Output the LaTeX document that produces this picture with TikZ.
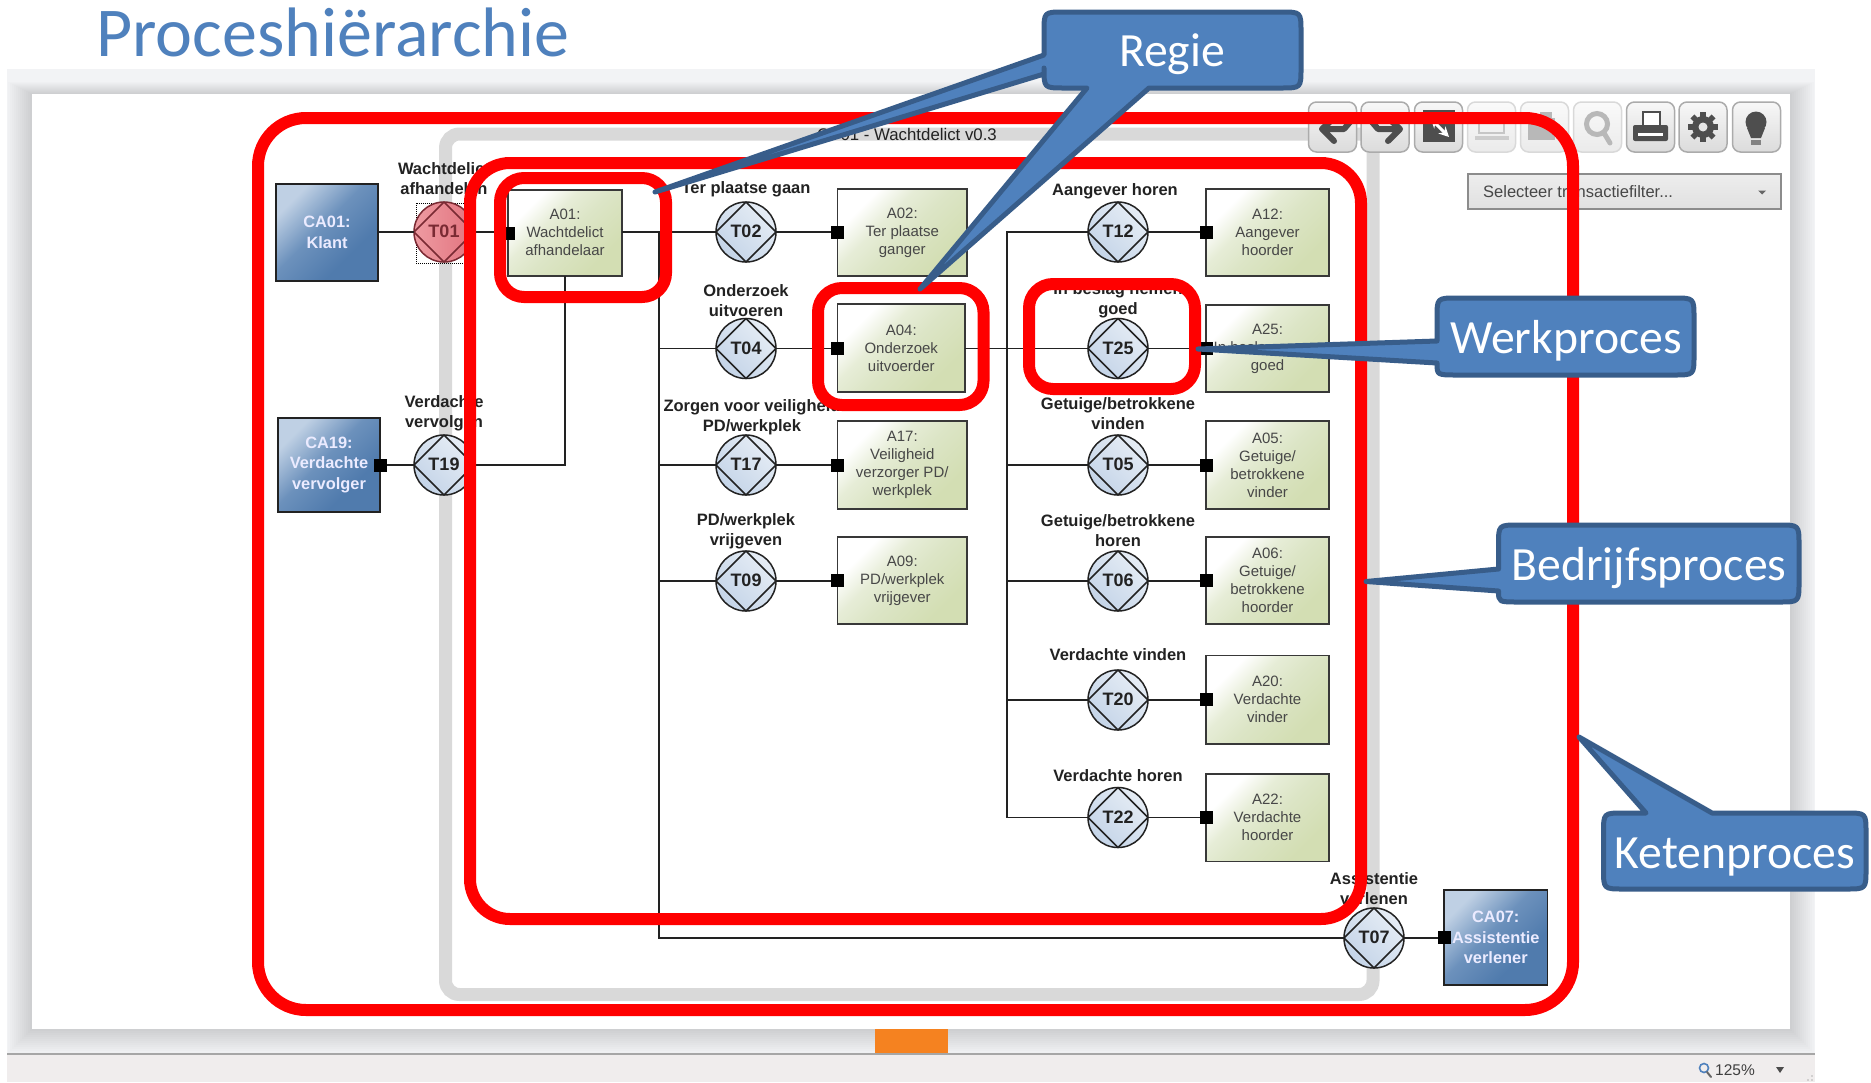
\documentclass[tikz,border=0pt]{standalone}
\usepackage{fontspec}
\setmainfont{Liberation Sans}
\newfontfamily\calfont{Carlito}
\usetikzlibrary{arrows.meta,calc}
\definecolor{calloutfill}{HTML}{4F81BD}
\definecolor{calloutedge}{HTML}{385D8A}
\definecolor{framered}{HTML}{FF0000}
\definecolor{framegrey}{HTML}{D9D9D9}
\definecolor{slidebg}{HTML}{F2F3F5}
\definecolor{barbg}{HTML}{F0EDED}
\definecolor{orangebar}{HTML}{F58220}
\definecolor{inkdark}{HTML}{222222}
\definecolor{inkred}{HTML}{7A2A33}
\definecolor{icondark}{HTML}{4E4E4E}
\definecolor{iconlight}{HTML}{B8B8B8}
\definecolor{actmid}{HTML}{DCE5C6}
\definecolor{actgreen}{HTML}{D3DEB3}
\definecolor{caA}{HTML}{BFD0E4}
\definecolor{caB}{HTML}{6C91BC}
\definecolor{caC}{HTML}{507BAD}
\definecolor{transA}{HTML}{E6EDF5}
\definecolor{transB}{HTML}{C4D4E8}
\definecolor{redA}{HTML}{EE9BA2}
\definecolor{redB}{HTML}{E2737E}
\pgfdeclarehorizontalshading{actshade}{100bp}{color(0bp)=(white); color(28bp)=(white); color(40bp)=(actmid!70!white); color(52bp)=(actmid); color(72bp)=(actgreen); color(100bp)=(actgreen)}
\pgfdeclarehorizontalshading{cashade}{100bp}{color(0bp)=(caA); color(26bp)=(caA); color(46bp)=(caB); color(66bp)=(caC); color(100bp)=(caC)}
\tikzset{
  x=1pt,y=-1pt,
  actbox/.style={draw=inkdark!90,line width=1.8pt,shading=actshade,shading angle=-45,inner sep=0pt,outer sep=0pt},
  cabox/.style={draw=inkdark,line width=1.8pt,shading=cashade,shading angle=-45,inner sep=0pt,outer sep=0pt},
  catext/.style={align=center,inner sep=0pt,text=white!92!blue,font=\bfseries\fontsize{16.4}{20.5}\selectfont},
  acttext/.style={align=center,inner sep=0pt,text=black!72,font=\fontsize{15}{18}\selectfont},
  transnode/.style={circle,draw=inkdark,line width=1.5pt,minimum size=60pt,inner sep=0pt,outer sep=0pt,left color=transA,right color=transB,shading angle=-45},
  transred/.style={transnode,draw=inkred,left color=redA,right color=redB},
  ttext/.style={inner sep=0pt,font=\bfseries\fontsize{18}{20}\selectfont},
  tlabel/.style={align=center,inner sep=0pt,text=inkdark,font=\bfseries\fontsize{16.5}{20}\selectfont},
  conn/.style={draw=inkdark,line width=1.8pt},
  port/.style={fill=black,minimum size=13pt,inner sep=0pt,outer sep=0pt},
  redframe/.style={draw=framered,line width=12pt},
  callout/.style={draw=calloutedge,fill=calloutfill,line width=5pt,line join=round},
  calloutlabel/.style={text=white,inner sep=0pt,font=\calfont\fontsize{47.7}{50}\selectfont},
  toolbtn/.style={draw=black!33,line width=1.5pt,rounded corners=8pt,top color=white!97!black,bottom color=black!14},
  toolbtnoff/.style={draw=black!15,line width=1.5pt,rounded corners=8pt,top color=white!98!black,bottom color=black!8},
}
\newcommand{\ActBox}[6]{%
  \pgfmathsetmacro\cx{(#2+#4)/2}\pgfmathsetmacro\cy{(#3+#5)/2}%
  \pgfmathsetmacro\bw{#4-#2}\pgfmathsetmacro\bh{#5-#3}%
  \node[#6,minimum width=\bw pt,minimum height=\bh pt] (#1) at (\cx,\cy) {};}
\newcommand{\TransN}[5][transnode]{%
  \node[#1] (#2) at (#3,#4) {};
  \draw[draw=#5,line width=1.5pt,line join=round] (#2.north) -- (#2.east) -- (#2.south) -- (#2.west) -- cycle;
  \node[ttext,text=#5] at ($(#2.center)+(0,-0.5)$) {#2};}
\newcommand{\TB}[2]{\node[#1,minimum width=48pt,minimum height=50pt] at (#2,127) {};}
\begin{document}
\begin{tikzpicture}
\useasboundingbox (0,0) rectangle (1871,1082);
\fill[white] (0,0) rectangle (1871,1082);
% slide surroundings
\fill[slidebg] (7,69) rectangle (1815,1054);
\begin{scope}
  \clip (7,69) rectangle (1815,1054);
  \foreach \d in {2,4,...,24}{\fill[black,opacity=.012] ({32-\d},{94-\d*.5}) rectangle ({1790+\d},{1029+\d});}
\end{scope}
\fill[white] (32,94) rectangle (1790,1029);
\fill[orangebar] (875,1029) rectangle (948,1054);
\fill[barbg] (7,1054) rectangle (1815,1082);
\draw[black!35,line width=1.5pt] (7,1054) -- (1815,1054);
% grey process frame
\draw[draw=framegrey,line width=13pt,rounded corners=14pt] (445.5,134) rectangle (1373,994.5);
\node[inner sep=0pt,text=inkdark,font=\fontsize{16.8}{20}\selectfont] (proctitle) at (907,134.5) {CP01 - Wachtdelict v0.3};
% toolbar
\TB{toolbtn}{1332.5}\TB{toolbtn}{1385}\TB{toolbtn}{1438.5}\TB{toolbtnoff}{1491.5}\TB{toolbtnoff}{1544.5}\TB{toolbtnoff}{1597.5}\TB{toolbtn}{1650.5}\TB{toolbtn}{1703}\TB{toolbtn}{1756.5}
\begin{scope}[icondark,line width=6pt,line cap=round,line join=round]
  \draw[icondark] (1322,129) -- (1334,141) (1322,129) -- (1334,118) (1322,129) -- (1344,129) -- (1350,122);
  \draw[icondark] (1400,129) -- (1388,141) (1400,129) -- (1388,118) (1400,129) -- (1378,129) -- (1372,122);
\end{scope}
\fill[icondark] (1423,110) rectangle (1455,142);
\draw[white,line width=3pt,{Stealth[length=9pt,width=9pt]}-{Stealth[length=10pt,width=10pt]}] (1431,119) -- (1449,137);
% disabled icons
\draw[iconlight!80,line width=2.5pt] (1479,113) rectangle (1504,133);
\fill[iconlight!70] (1475,136) rectangle (1509,140);
\fill[iconlight] (1528,118) rectangle (1555,140);
\fill[iconlight] (1540,112) rectangle (1552,120);
\draw[iconlight,line width=5pt] (1597,124) circle (10.5);
\draw[iconlight,line width=5pt,line cap=round] (1604,133) -- (1610,143);
% printer
\draw[icondark,fill=white,line width=2.5pt] (1643,112) rectangle (1660,128);
\fill[icondark,rounded corners=2pt] (1633,125) rectangle (1668,141);
\fill[white] (1638,133) rectangle (1663,136);
% gear
\begin{scope}[shift={(1703,127)}]
  \foreach \a in {0,45,...,315}{\draw[icondark,line width=5.5pt] (0,0) -- (\a:15);}
  \fill[icondark] (0,0) circle (11);
  \fill[white!90!black] (0,0) circle (4.5);
\end{scope}
% bulb
\fill[icondark] (1756,122) circle (10.5);
\fill[icondark] (1747,128) -- (1765,128) -- (1761,138) -- (1751,138) -- cycle;
\fill[icondark!70] (1751,140) rectangle (1761,145);
% dropdown
\node[draw=black!45,line width=1.2pt,top color=black!7,bottom color=black!12,minimum width=313pt,minimum height=35pt,inner sep=0pt,outer sep=0pt] (filter) at (1624.5,191.5) {};
\node[anchor=base west,inner sep=0pt,text=black!72,font=\fontsize{16.5}{20}\selectfont] (filtertext) at (1483,197) {Selecteer transactiefilter...};
\fill[black!60] (1758,190.5) -- (1766,190.5) -- (1762,194.5) -- cycle;

% composite actors
\ActBox{CA01}{276}{184}{378}{281}{cabox}
\ActBox{CA19}{278}{418}{380}{512}{cabox}
\ActBox{CA07}{1444}{890}{1547.5}{985}{cabox}
\node[catext] at (CA01.center) {CA01:\\Klant};
\node[catext] at (CA19.center) {CA19:\\Verdachte\\vervolger};
\node[catext] at (CA07.center) {CA07:\\Assistentie\\verlener};
% actor roles
\ActBox{A01}{508}{190}{622}{276}{actbox}
\ActBox{A02}{837.5}{189}{967}{276}{actbox}
\ActBox{A04}{837.5}{304}{965}{392}{actbox}
\ActBox{A17}{837.5}{421}{967}{509}{actbox}
\ActBox{A09}{837.5}{537}{967}{624}{actbox}
\ActBox{A12}{1206}{189}{1329}{276}{actbox}
\ActBox{A25}{1206}{305}{1329}{392}{actbox}
\ActBox{A05}{1206}{421}{1329}{509}{actbox}
\ActBox{A06}{1206}{537}{1329}{624}{actbox}
\ActBox{A20}{1206}{655.5}{1329}{744}{actbox}
\ActBox{A22}{1206}{774}{1329}{861.5}{actbox}
\node[acttext] at ($(A01.center)+(0,-1)$) {A01:\\Wachtdelict\\afhandelaar};
\node[acttext] at (A02.center) {A02:\\Ter plaatse\\ganger};
\node[acttext] at (A04.center) {A04:\\Onderzoek\\uitvoerder};
\node[acttext] at (A17.center) {A17:\\Veiligheid\\verzorger PD/\\werkplek};
\node[acttext] at (A09.center) {A09:\\PD/werkplek\\vrijgever};
\node[acttext] at (A12.center) {A12:\\Aangever\\hoorder};
\node[acttext] at (A25.center) {A25:\\In beslag nemer\\goed};
\node[acttext] at (A05.center) {A05:\\Getuige/\\betrokkene\\vinder};
\node[acttext] at (A06.center) {A06:\\Getuige/\\betrokkene\\hoorder};
\node[acttext] at (A20.center) {A20:\\Verdachte\\vinder};
\node[acttext] at (A22.center) {A22:\\Verdachte\\hoorder};

% selection box behind T01
\draw[black,line width=1pt,densely dotted] (416,203) rectangle (475,263);
% transactions
\TransN[transred]{T01}{444}{232}{inkred}
\TransN{T19}{444}{465}{inkdark}
\TransN{T02}{746}{232}{inkdark}
\TransN{T04}{746}{348.5}{inkdark}
\TransN{T17}{746}{465}{inkdark}
\TransN{T09}{746}{581}{inkdark}
\TransN{T12}{1118}{232}{inkdark}
\TransN{T25}{1118}{348.5}{inkdark}
\TransN{T05}{1118}{465}{inkdark}
\TransN{T06}{1118}{581}{inkdark}
\TransN{T20}{1118}{700}{inkdark}
\TransN{T22}{1118}{817.5}{inkdark}
\TransN{T07}{1374}{938}{inkdark}
% transaction labels
\node[tlabel] (lT01) at (444,178.5) {Wachtdelict\\afhandelen};
\node[tlabel] (lT19) at (444,413) {Verdachte\\vervolgen};
\node[tlabel] (lT02) at (746,189) {Ter plaatse gaan};
\node[tlabel] (lT04) at (746,301) {Onderzoek\\uitvoeren};
\node[tlabel] (lT17) at (752,417) {Zorgen voor veiligheid\\PD/werkplek};
\node[tlabel] (lT09) at (746,531) {PD/werkplek\\vrijgeven};
\node[tlabel] (lT12) at (1115,191) {Aangever horen};
\node[tlabel] (lT25) at (1118,300) {In beslag nemen\\goed};
\node[tlabel] (lT05) at (1118,413.5) {Getuige/betrokkene\\vinden};
\node[tlabel] (lT06) at (1118,531) {Getuige/betrokkene\\horen};
\node[tlabel] (lT20) at (1118,655) {Verdachte vinden};
\node[tlabel] (lT22) at (1118,776) {Verdachte horen};
\node[tlabel] (lT07) at (1374,889) {Assistentie\\verlenen};

% connectors
\coordinate (busA) at (659,232);
\coordinate (busB) at (1007,232);
\draw[conn] (T01.west) -- (T01.west -| CA01.east);
\draw[conn] (T01.east) -- (T01.east -| A01.west);
\draw[conn] (CA19.east |- T19.west) -- (T19.west);
\draw[conn] (T19.east) -- (A01.south |- T19.east) -- (A01.south);
\draw[conn] (T02.west -| A01.east) -- (T02.west);
\draw[conn] (busA) -- (busA |- T07.west) -- (T07.west);
\draw[conn] (busA |- T04.west) -- (T04.west);
\draw[conn] (busA |- T17.west) -- (T17.west);
\draw[conn] (busA |- T09.west) -- (T09.west);
\draw[conn] (T02.east) -- (T02.east -| A02.west);
\draw[conn] (T04.east) -- (T04.east -| A04.west);
\draw[conn] (T17.east) -- (T17.east -| A17.west);
\draw[conn] (T09.east) -- (T09.east -| A09.west);
\draw[conn] (T12.west) -- (busB) -- (busB |- T22.west) -- (T22.west);
\draw[conn] (T25.west -| A04.east) -- (T25.west);
\draw[conn] (busB |- T05.west) -- (T05.west);
\draw[conn] (busB |- T06.west) -- (T06.west);
\draw[conn] (busB |- T20.west) -- (T20.west);
\draw[conn] (T12.east) -- (T12.east -| A12.west);
\draw[conn] (T25.east) -- (T25.east -| A25.west);
\draw[conn] (T05.east) -- (T05.east -| A05.west);
\draw[conn] (T06.east) -- (T06.east -| A06.west);
\draw[conn] (T20.east) -- (T20.east -| A20.west);
\draw[conn] (T22.east) -- (T22.east -| A22.west);
\draw[conn] (T07.east) -- (T07.east -| CA07.west);
% ports
\foreach \n in {A01,A02,A04,A17,A09,A12,A25,A05,A06,A20,A22,CA07}{\node[port] (p\n) at (\n.west) {};}
\node[port] (pCA19) at (CA19.east) {};

% red frames
\draw[redframe,rounded corners=48pt] (258,118) rectangle (1573,1010);
\draw[redframe,rounded corners=40pt] (470,163) rectangle (1361,919);
\draw[redframe,rounded corners=24pt] (500,178) rectangle (666,297);
\draw[redframe,rounded corners=24pt] (818,288) rectangle (983.5,405);
\draw[redframe,rounded corners=24pt] (1029,284) rectangle (1195,389);

% callouts
\draw[callout] (1064,12) -- (1281,12) .. controls (1301,12) .. (1301,32) -- (1301,68) .. controls (1301,88) .. (1281,88) -- (1149,88) -- (920,289) -- (1087,88) -- (1064,88) .. controls (1044,88) .. (1044,68) -- (1044,74) -- (655,192) -- (1044,55) -- (1044,32) .. controls (1044,12) .. (1064,12) -- cycle;
\node[calloutlabel] (regie) at (1172,54) {Regie};
\draw[callout] (1457,298) -- (1674,298) .. controls (1694,298) .. (1694,318) -- (1694,355) .. controls (1694,375) .. (1674,375) -- (1457,375) .. controls (1437,375) .. (1437,363) -- (1198,349) -- (1437,341) -- (1437,318) .. controls (1437,298) .. (1457,298) -- cycle;
\node[calloutlabel] (werk) at (1566,340.5) {Werkproces};
\draw[callout] (1518.5,525) -- (1779,525) .. controls (1799,525) .. (1799,545) -- (1799,582) .. controls (1799,602) .. (1779,602) -- (1518.5,602) .. controls (1498.5,602) .. (1498.5,591) -- (1366,581.5) -- (1498.5,569) -- (1498.5,545) .. controls (1498.5,525) .. (1518.5,525) -- cycle;
\node[calloutlabel] (bedrijf) at (1649,568) {Bedrijfsproces};
\draw[callout] (1623.5,813) -- (1646,813) -- (1579,737) -- (1712,813) -- (1846,813) .. controls (1866,813) .. (1866,833) -- (1866,869) .. controls (1866,889) .. (1846,889) -- (1623.5,889) .. controls (1603.5,889) .. (1603.5,869) -- (1603.5,833) .. controls (1603.5,813) .. (1623.5,813) -- cycle;
\node[calloutlabel] (keten) at (1735,857) {Ketenproces};

% title
\node[anchor=base west,inner sep=0pt,text=calloutfill,font=\calfont\fontsize{70}{72}\selectfont] (title) at (96,56) {Proceshiërarchie};

% status bar
\draw[calloutfill,line width=1.6pt] (1704,1068) circle (4.5);
\draw[black!60,line width=2pt,line cap=round] (1707,1072) -- (1711,1077);
\node[anchor=west,inner sep=0pt,text=black!75,font=\fontsize{15.5}{18}\selectfont] (zoomtxt) at (1715,1070) {125\%};
\fill[black!70] (1776,1067) -- (1784,1067) -- (1780,1073) -- cycle;
\foreach \p in {(1812,1076),(1808,1080),(1812,1080)}{\fill[black!30] \p circle (0.9);}
\end{tikzpicture}
\end{document}
